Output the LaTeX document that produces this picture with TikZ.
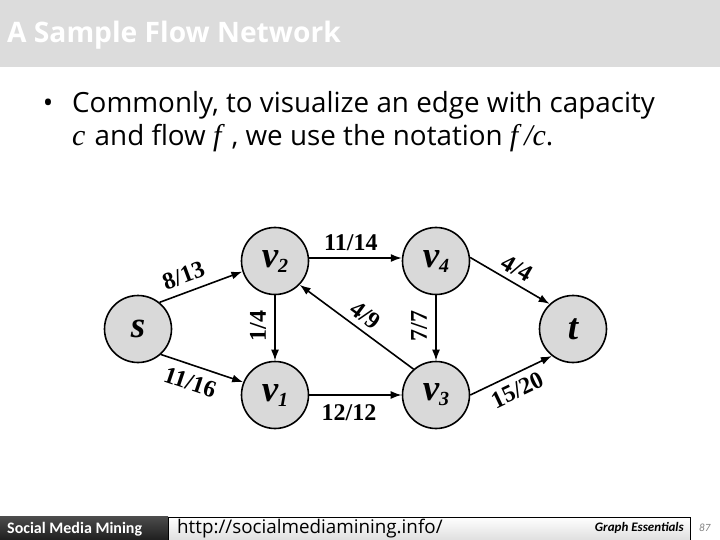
\documentclass[tikz,border=0pt]{standalone}
\usepackage{fontspec}
\setmainfont{Open Sans}
\newfontfamily\labelfont{Liberation Serif}
\newfontfamily\footfont{Carlito}
\usetikzlibrary{arrows.meta}

\definecolor{headgray}{RGB}{220,220,220}
\definecolor{nodegray}{RGB}{217,217,217}

\newcommand{\vsub}[2]{#1\raisebox{-5pt}{\fontsize{20}{20}\selectfont #2}}
\newcommand{\varf}[1]{{\labelfont\itshape\fontsize{30}{30}\selectfont #1}}

\tikzset{
  vertex/.style={circle, draw, line width=1.6pt, fill=nodegray, minimum size=67pt, inner sep=0pt,
    font=\fontsize{37}{37}\selectfont\labelfont\bfseries\itshape},
  flow/.style={line width=1.6pt, -{Latex[length=11pt,width=8pt]}},
  flowlabel/.style={font=\fontsize{24}{24}\selectfont\labelfont\bfseries, inner sep=1pt},
  slidetext/.style={anchor=base west, inner sep=0pt, font=\fontsize{27.8}{30}\selectfont},
}

\begin{document}
\begin{tikzpicture}[x=1pt, y=-1pt]
    \useasboundingbox (0,0) rectangle (720,540);

    % title bar
    \fill[headgray] (0,0) rectangle (720,67);
    \node[slidetext, text=white, font=\fontsize{28.2}{30}\selectfont\bfseries] (title) at (7,43) {A Sample Flow Network};

    % bullet
    \node[anchor=base, inner sep=0pt, font=\fontsize{27.8}{30}\selectfont] (bullet) at (48,113) {•};
    \node[slidetext] (line1) at (72,113) {Commonly, to visualize an edge with capacity};
    \node[slidetext] (line2) at (72,146) {\varf{c}\kern2pt{} and flow \varf{f}\kern3pt{} , we use the notation \varf{f\kern6pt/c}.};

    % vertices
    \node[vertex] (s) at (138,329) {s};
    \node[vertex] (v2) at (275,261) {\vsub{v}{2}};
    \node[vertex] (v1) at (275,395) {\vsub{v}{1}};
    \node[vertex] (v4) at (436,261) {\vsub{v}{4}};
    \node[vertex] (v3) at (436,395) {\vsub{v}{3}};
    \node[vertex] (t) at (573,329) {t};

    % edges f/c
    \draw[flow] (s.51) -- (v2.-162) node[flowlabel, pos=0.36, sloped, above=7pt] {8/13};
    \draw[flow] (s.-48) -- (v1.158) node[flowlabel, pos=0.42, sloped, below=7pt] {11/16};
    \draw[flow] (v2.south) -- (v1.north) node[flowlabel, pos=0.47, rotate=90, anchor=south, outer sep=8pt] {1/4};
    \draw[flow] (v2.5) -- (v4.175) node[flowlabel, pos=0.45, above=5pt] {11/14};
    \draw[flow] (v1.east) -- (v3.west) node[flowlabel, pos=0.43, below=8pt] {12/12};
    \draw[flow] (v3.131) -- (v2.-44) node[flowlabel, pos=0.5, sloped, above=5pt] {4/9};
    \draw[flow] (v4.south) -- (v3.north) node[flowlabel, pos=0.47, rotate=90, anchor=south, outer sep=8pt] {7/7};
    \draw[flow] (v4.6) -- (t.133) node[flowlabel, pos=0.5, sloped, above=4.5pt] {4/4};
    \draw[flow] (v3.east) -- (t.-128) node[flowlabel, pos=0.49, sloped, below=6pt] {15/20};

    % footer
    \shade[top color=black!70, bottom color=black!88] (0,516) rectangle (168,540);
    \node[anchor=base west, inner sep=0pt, text=white, font=\footfont\bfseries\fontsize{16}{16}\selectfont] (course) at (7,533) {Social Media Mining};
    \shade[top color=white, bottom color=gray!25, draw=black, line width=0.6pt] (168,517) rectangle (690,540);
    \node[anchor=base west, inner sep=0pt, font=\fontsize{18.8}{20}\selectfont] (url) at (177,533) {http://socialmediamining.info/};
    \node[anchor=base east, inner sep=0pt, font=\footfont\bfseries\itshape\fontsize{13}{14}\selectfont] (chapter) at (684,531) {Graph Essentials};
    \node[anchor=base west, inner sep=0pt, text=gray, font=\footfont\itshape\fontsize{11}{12}\selectfont] (page) at (699,531.5) {87};
\end{tikzpicture}
\end{document}
